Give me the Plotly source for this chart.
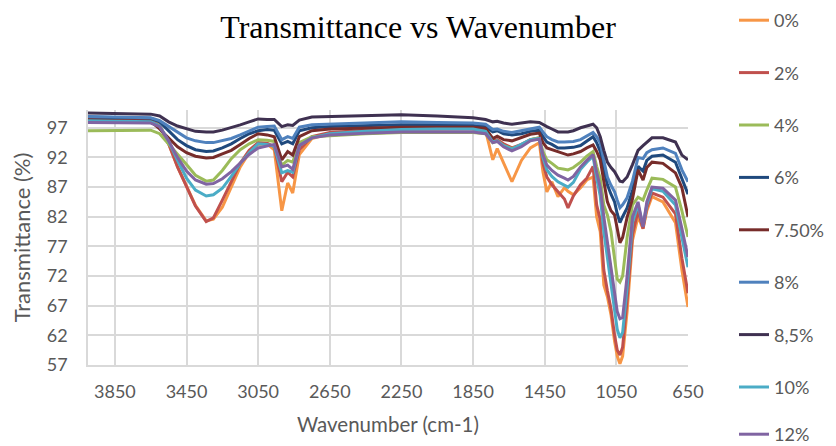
import plotly.graph_objects as go

wavenumber = [4000, 3800, 3650, 3600, 3550, 3500, 3450, 3400, 3340, 3300, 3250, 3200, 3150, 3100,
              3050, 3000, 2960, 2918, 2885, 2857, 2820, 2750, 2650, 2450, 2250, 2050, 1850, 1780,
              1740, 1715, 1680, 1633, 1580, 1530, 1480, 1460, 1438, 1410, 1376, 1340, 1320, 1290,
              1250, 1215, 1180, 1160, 1140, 1120, 1100, 1080, 1060, 1045, 1030, 1015, 990, 960,
              929, 901, 880, 851, 790, 720, 684, 650]

t_0 = [98.7, 98.6, 98.4, 97.5, 94.3, 90.4, 87.2, 83.9, 81.3, 81.6, 83.6, 87.0, 90.4, 92.8,
       94.2, 94.3, 93.3, 83.0, 87.7, 86.0, 92.5, 95.2, 96.0, 96.5, 96.8, 96.8, 96.9, 96.5,
       91.6, 93.5, 91.0, 87.9, 91.5, 93.6, 94.5, 89.6, 86.2, 87.9, 85.4, 86.9, 86.3, 85.7,
       86.9, 88.2, 88.7, 82.0, 79.5, 70.5, 68.5, 65.5, 61.0, 58.5, 57.2, 58.5, 66.0, 78.0,
       82.0, 80.0, 83.0, 85.4, 84.5, 81.0, 73.0, 66.8]
t_2 = [98.5, 98.4, 98.2, 97.3, 94.3, 90.4, 87.2, 83.8, 81.2, 81.8, 84.8, 88.0, 91.0, 93.2,
       94.5, 94.4, 93.8, 87.9, 89.5, 88.7, 93.3, 95.5, 96.2, 96.6, 96.8, 96.8, 96.8, 96.5,
       94.8, 95.0, 94.3, 93.6, 94.2, 95.0, 95.3, 91.0, 88.7, 87.4, 86.2, 85.0, 83.5, 85.5,
       87.4, 88.5, 90.5, 84.0, 81.5, 73.0, 69.5, 66.5, 62.0, 59.5, 58.7, 60.0, 68.0, 79.0,
       83.0, 80.0, 83.5, 86.0, 85.3, 82.5, 75.0, 69.1]
t_4 = [96.5, 96.5, 96.6, 96.0, 94.3, 92.5, 90.8, 89.0, 88.0, 88.2, 89.8, 91.8, 93.3, 94.3,
       95.0, 94.9, 94.7, 90.7, 91.5, 91.2, 94.5, 95.5, 95.7, 96.0, 96.2, 96.2, 96.2, 96.0,
       94.5, 94.8, 94.0, 93.5, 94.0, 95.0, 95.3, 93.0, 91.6, 91.0, 90.2, 90.0, 89.9, 90.3,
       91.2, 92.2, 93.0, 90.5, 88.5, 84.0, 82.3, 79.5, 74.5, 71.5, 71.0, 72.0, 78.5, 84.0,
       85.3, 84.8, 86.5, 88.5, 88.3, 87.0, 83.0, 78.6]
t_6 = [98.8, 98.7, 98.6, 98.0, 96.5, 95.0, 94.0, 93.3, 93.0, 93.1, 93.6, 94.3, 95.2, 96.0,
       96.5, 96.7, 96.6, 94.3, 94.7, 94.3, 96.5, 97.0, 97.2, 97.4, 97.5, 97.5, 97.4, 97.2,
       96.3, 96.5, 96.0, 95.8, 96.0, 96.4, 96.6, 95.5, 94.6, 94.2, 93.6, 93.6, 93.6, 93.7,
       94.0, 94.8, 95.5, 94.5, 93.0, 90.0, 87.4, 85.8, 84.5, 82.5, 81.0, 82.0, 83.5, 86.5,
       90.5, 89.7, 91.5, 92.2, 92.4, 91.2, 88.5, 85.8]
t_75 = [98.3, 98.2, 98.1, 96.8, 95.3, 93.8, 92.8, 92.2, 91.9, 92.0, 92.6, 93.2, 94.2, 95.2,
        96.0, 95.8, 95.5, 91.6, 93.0, 92.4, 95.5, 96.5, 96.8, 97.0, 97.1, 97.1, 97.1, 96.9,
        95.2, 95.6, 95.0, 94.8, 95.3, 95.9, 96.1, 94.5, 93.6, 93.3, 93.0, 92.6, 92.4, 92.6,
        93.0, 93.6, 94.1, 93.0, 91.6, 88.0, 84.5, 83.0, 82.3, 80.0, 77.6, 78.5, 81.9, 85.0,
        89.9, 88.2, 90.3, 91.2, 91.0, 89.4, 86.9, 82.0]
t_8 = [98.9, 98.8, 98.7, 98.2, 97.2, 96.2, 95.3, 94.8, 94.5, 94.5, 94.8, 95.2, 95.8, 96.5,
       97.1, 97.2, 97.3, 95.0, 95.5, 95.2, 97.1, 97.5, 97.6, 97.8, 98.0, 97.9, 97.8, 97.6,
       96.7, 96.8, 96.4, 96.2, 96.5, 96.9, 97.1, 96.3, 95.5, 95.0, 94.6, 94.6, 94.6, 94.7,
       95.0, 95.6, 96.2, 95.5, 94.5, 91.5, 88.7, 87.3, 86.2, 84.8, 83.5, 84.0, 85.2, 88.0,
       92.0, 91.8, 92.8, 93.3, 93.6, 92.7, 89.9, 87.9]
t_85 = [99.5, 99.4, 99.3, 99.0, 98.0, 97.3, 96.8, 96.4, 96.3, 96.3, 96.6, 97.0, 97.5, 98.0,
        98.5, 98.4, 98.4, 97.2, 97.5, 97.4, 98.3, 98.8, 98.9, 99.0, 99.2, 99.0, 98.7, 98.4,
        98.0, 98.1, 97.8, 97.6, 97.8, 98.0, 97.9, 97.5, 97.2, 96.8, 96.3, 96.3, 96.3, 96.5,
        97.0, 97.3, 97.6, 97.0, 95.5, 93.2, 91.2, 90.3, 89.6, 88.8, 88.0, 87.9, 88.7, 90.8,
        93.2, 94.0, 94.5, 95.3, 95.3, 94.6, 92.4, 91.6]
t_10 = [98.2, 98.1, 98.0, 97.3, 94.8, 91.5, 88.5, 86.5, 85.5, 85.7, 86.8, 88.8, 91.0, 92.8,
        94.3, 94.2, 93.9, 89.4, 89.8, 89.5, 94.0, 95.3, 96.0, 96.4, 96.7, 96.8, 96.8, 96.4,
        94.6, 94.8, 94.0, 93.4, 94.2, 95.0, 95.2, 92.0, 89.9, 88.8, 87.9, 87.3, 87.0, 87.8,
        90.0, 91.2, 92.2, 88.5, 85.5, 79.5, 75.0, 71.0, 66.5, 63.0, 61.6, 62.5, 70.0, 81.0,
        84.0, 80.5, 84.0, 86.7, 86.3, 84.0, 78.5, 73.5]
t_12 = [97.9, 97.9, 97.8, 97.2, 94.8, 92.0, 89.7, 88.2, 87.5, 87.6, 88.4, 89.6, 91.0, 92.5,
        93.6, 94.0, 94.2, 90.4, 90.7, 90.0, 94.0, 95.3, 95.8, 96.1, 96.3, 96.3, 96.3, 96.0,
        94.5, 94.7, 93.8, 93.1, 93.8, 94.8, 95.1, 92.5, 90.7, 89.8, 89.0, 88.5, 88.2, 88.8,
        90.4, 91.5, 92.5, 89.5, 87.0, 82.0, 77.5, 73.5, 69.0, 66.0, 64.8, 65.0, 72.0, 82.0,
        84.5, 80.3, 84.5, 87.0, 86.8, 84.8, 80.0, 75.2]

series_names = ["0%", "2%", "4%", "6%", "7.50%", "8%", "8,5%", "10%", "12%"]
series_values = [t_0, t_2, t_4, t_6, t_75, t_8, t_85, t_10, t_12]
series_colors = ["#F79646", "#C0504D", "#9BBB59", "#1F497D", "#772C2A",
                 "#4F81BD", "#3F3151", "#4BACC6", "#8064A2"]

x_ticks = [3850, 3450, 3050, 2650, 2250, 1850, 1450, 1050, 650]
y_ticks = [57, 62, 67, 72, 77, 82, 87, 92, 97]

FONT = "Lato, 'Open Sans', sans-serif"
GRAY = "#595959"

fig = go.Figure()
for i, (name, vals, col) in enumerate(zip(series_names, series_values, series_colors)):
    fig.add_trace(go.Scatter(
        x=wavenumber, y=vals, name=name, mode="lines",
        line=dict(color=col, width=3),
        legendgroup=name,
        legend="legend2" if i == len(series_names) - 1 else "legend",
    ))

fig.update_layout(
    width=836, height=446,
    margin=dict(l=88, r=148, t=110, b=81),
    paper_bgcolor="white", plot_bgcolor="white",
    title=dict(text="Transmittance vs Wavenumber", x=418 / 836, xref="container", xanchor="center",
               y=1 - 27 / 446, yref="container", yanchor="middle",
               font=dict(family="'Liberation Serif', 'Times New Roman', serif", size=32, color="black")),
    font=dict(family=FONT, size=18, color=GRAY),
    xaxis=dict(range=[4000, 650], tickvals=x_ticks, ticktext=[str(v) for v in x_ticks],
               showgrid=True, gridcolor="#D9D9D9", gridwidth=1.5,
               showline=True, linecolor="#D9D9D9", linewidth=1.5, zeroline=False,
               ticks="", tickfont=dict(size=18, color=GRAY), ticklabelstandoff=10,
               title=dict(text="Wavenumber (cm-1)", font=dict(size=20.5, color=GRAY), standoff=16)),
    yaxis=dict(range=[57, 100], tickvals=y_ticks,
               showgrid=True, gridcolor="#D9D9D9", gridwidth=1.5,
               showline=True, linecolor="#D9D9D9", linewidth=1.5, zeroline=False,
               ticks="", tickfont=dict(size=18, color=GRAY), ticklabelstandoff=15,
               title=dict(text="Transmittance (%)", font=dict(size=22, color=GRAY), standoff=10)),
    legend=dict(xref="container", yref="container", x=734 / 836, y=1 - 2 / 446,
                xanchor="left", yanchor="top", tracegroupgap=26, maxheight=440,
                font=dict(family=FONT, size=18, color=GRAY), bgcolor="rgba(0,0,0,0)"),
    legend2=dict(xref="container", yref="container", x=734 / 836, y=1 - 416 / 446,
                 xanchor="left", yanchor="top",
                 font=dict(family=FONT, size=18, color=GRAY), bgcolor="rgba(0,0,0,0)"),
    showlegend=True,
)

fig.write_html("out.html")
